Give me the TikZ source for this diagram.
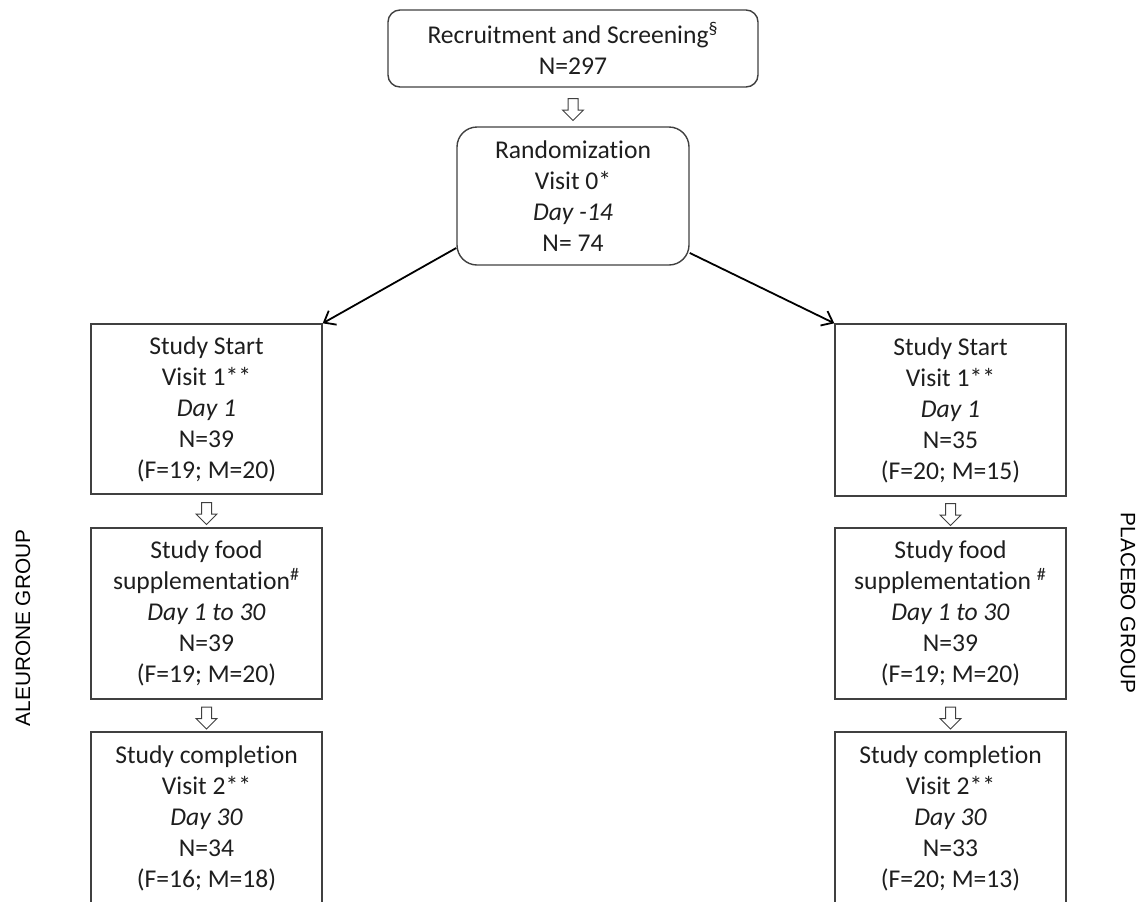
\documentclass[tikz,border=0pt]{standalone}
\usepackage{fontspec}
\setmainfont{Carlito}[Ligatures=NoCommon]
\newfontfamily\armfont{Liberation Sans}
\usetikzlibrary{shapes.arrows}
\usetikzlibrary{arrows.meta,calc}
\definecolor{boxline}{HTML}{404040}
\definecolor{boxtext}{HTML}{1E1E1E}

\begin{document}
\begin{tikzpicture}[x=0.5pt, y=-0.5pt,
  font=\fontsize{12.8}{15.5}\selectfont, text=boxtext,
  box/.style={draw=boxline, line width=0.7pt, align=center, inner sep=0pt},
  stepbox/.style={box, minimum width=115.5pt, minimum height=85pt},
  downarrow/.style={single arrow, draw=boxline, fill=white, line width=0.5pt,
    shape border rotate=270, minimum height=11pt,
    single arrow head extend=2.75pt, inner sep=2.25pt},
  armlabel/.style={font=\armfont\fontsize{10.4}{12}\selectfont, text=black}]
\useasboundingbox (0,0) rectangle (1141,901);
\clip (0,0) rectangle (1141,901);
% screening and randomization
\node[box, rounded corners=6pt, minimum width=185pt, minimum height=38.5pt] (recruit) at (573,48.5)
  {Recruitment and Screening\textsuperscript{\S}\\N=297};
\node[box, rounded corners=10pt, minimum width=116pt, minimum height=69pt] (rand) at (573,196)
  {Randomization\\Visit 0*\\\textit{Day -14}\\N= 74};
% aleurone arm
\node[stepbox] (aleu1) at (206.5,409) {Study Start\\Visit 1**\\\textit{Day 1}\\N=39\\(F=19; M=20)};
\node[stepbox, minimum height=85.5pt] (aleu2) at (206.5,613.5)
  {Study food\\supplementation\textsuperscript{\#}\\\textit{Day 1 to 30}\\N=39\\(F=19; M=20)};
\node[stepbox, minimum height=86pt] (aleu3) at (206.5,818)
  {Study completion\\Visit 2**\\\textit{Day 30}\\N=34\\(F=16; M=18)};
% placebo arm
\node[stepbox, minimum height=86pt] (plac1) at (950.5,410) {Study Start\\Visit 1**\\\textit{Day 1}\\N=35\\(F=20; M=15)};
\node[stepbox, minimum height=85.5pt] (plac2) at (950.5,613.5)
  {Study food\\supplementation \textsuperscript{\#}\\\textit{Day 1 to 30}\\N=39\\(F=19; M=20)};
\node[stepbox, minimum height=86pt] (plac3) at (950.5,818)
  {Study completion\\Visit 2**\\\textit{Day 30}\\N=33\\(F=20; M=13)};
% hollow arrows
\node[downarrow] (recruit-rand) at ($(recruit.south)!.5!(rand.north)$) {};
\foreach \a/\b in {aleu1/aleu2, aleu2/aleu3, plac1/plac2, plac2/plac3}
  \node[downarrow] (\a-\b) at ($(\a.south)!.5!(\b.north)$) {};
\draw[-{Straight Barb[length=5pt,width=8pt]}, line width=0.9pt] (rand.204) -- (aleu1.north east);
\draw[-{Straight Barb[length=5pt,width=8pt]}, line width=0.9pt] (rand.-26) -- (plac1.north west);
% group labels
\node[armlabel, rotate=90] (aleulab) at (23,628) {ALEURONE GROUP};
\node[armlabel, rotate=-90] (placlab) at (1128,603) {PLACEBO GROUP};
\end{tikzpicture}
\end{document}
